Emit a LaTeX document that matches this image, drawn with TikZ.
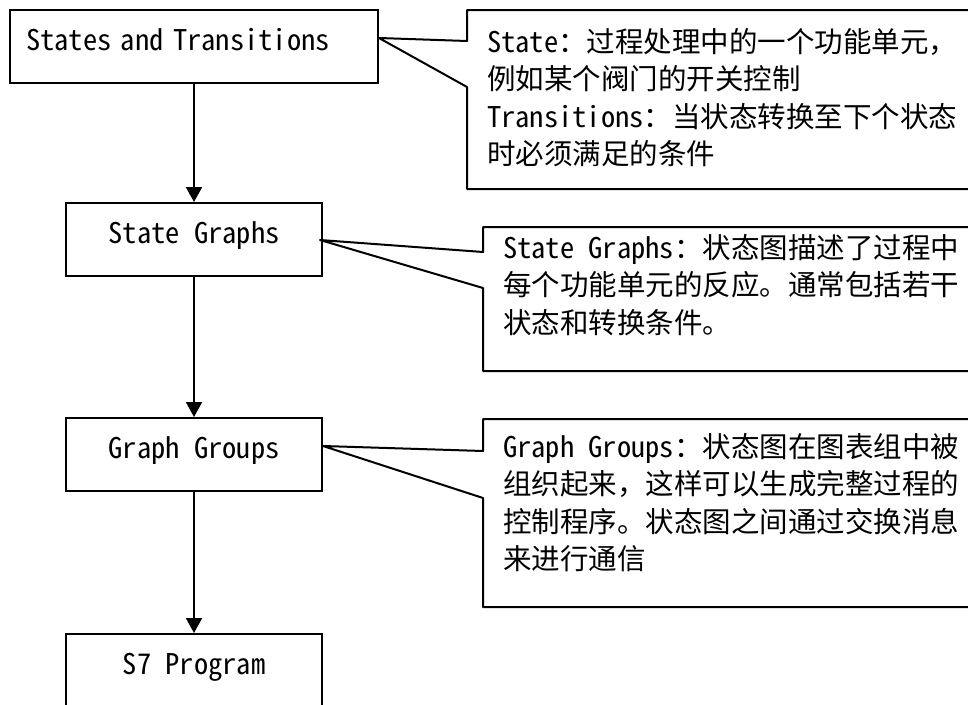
\documentclass[tikz,border=0pt]{standalone}
\usepackage{fontspec}
\setmainfont{Noto Sans Mono CJK SC}
\usetikzlibrary{arrows.meta,calc}
\begin{document}
\begin{tikzpicture}[x=1pt,y=-1pt,
  txt/.style={font=\fontsize{28.5}{37.5}\selectfont},
  stepbox/.style={draw,line width=2pt,txt,minimum width=256pt,minimum height=73pt,
    inner xsep=0pt,inner ysep=0pt,text height=22pt,text depth=14pt},
  flow/.style={line width=2pt,-{Triangle[width=16pt,length=15pt]}},
  note/.style={draw,line width=2pt,line join=round},
  notetext/.style={txt,anchor=base west,inner sep=0pt}]
\useasboundingbox (0,0) rectangle (968,704);
\clip (0,0) rectangle (968,704);

% process chain
\node[stepbox,minimum width=368pt,text width=336pt,align=left] (b1) at (194,46.5) {States and Transitions};
\node[stepbox] (b2) at (194,239.5) {State Graphs};
\node[stepbox] (b3) at (194,454.5) {Graph Groups};
\node[stepbox] (b4) at (194,670.5) {S7 Program};

\draw[flow] (b1) -- (b2);
\draw[flow] (b2) -- (b3);
\draw[flow] (b3) -- (b4);

% callout pointer tips on the boxes
\coordinate (t1) at ($(b1.east)+(0,-8.5)$);
\coordinate (t2) at ($(b2.east)+(-3,0.5)$);
\coordinate (t3) at ($(b3.east)+(0,-8.5)$);

% callouts (open to the right)
\draw[note] (990,10) -- (467,10) -- (467,41) -- (t1) -- (467,87) -- (467,189) -- (990,189);
\draw[note] (990,227) -- (483,227) -- (483,252) -- (t2) -- (483,288) -- (483,371) -- (990,371);
\draw[note] (990,419) -- (483,419) -- (483,451) -- (t3) -- (483,498) -- (483,607) -- (990,607);

% callout texts
\foreach \s [count=\i] in {State：过程处理中的一个功能单元，,例如某个阀门的开关控制,Transitions：当状态转换至下个状态,时必须满足的条件}
  \node[notetext] (n1-\i) at (487,{52+37.5*(\i-1)}) {\s};
\foreach \s [count=\i] in {State Graphs：状态图描述了过程中,每个功能单元的反应。通常包括若干,状态和转换条件。}
  \node[notetext] (n2-\i) at (503,{258+37.5*(\i-1)}) {\s};
\foreach \s [count=\i] in {Graph Groups：状态图在图表组中被,组织起来，这样可以生成完整过程的,控制程序。状态图之间通过交换消息,来进行通信}
  \node[notetext] (n3-\i) at (503,{457+37.5*(\i-1)}) {\s};
\end{tikzpicture}
\end{document}
